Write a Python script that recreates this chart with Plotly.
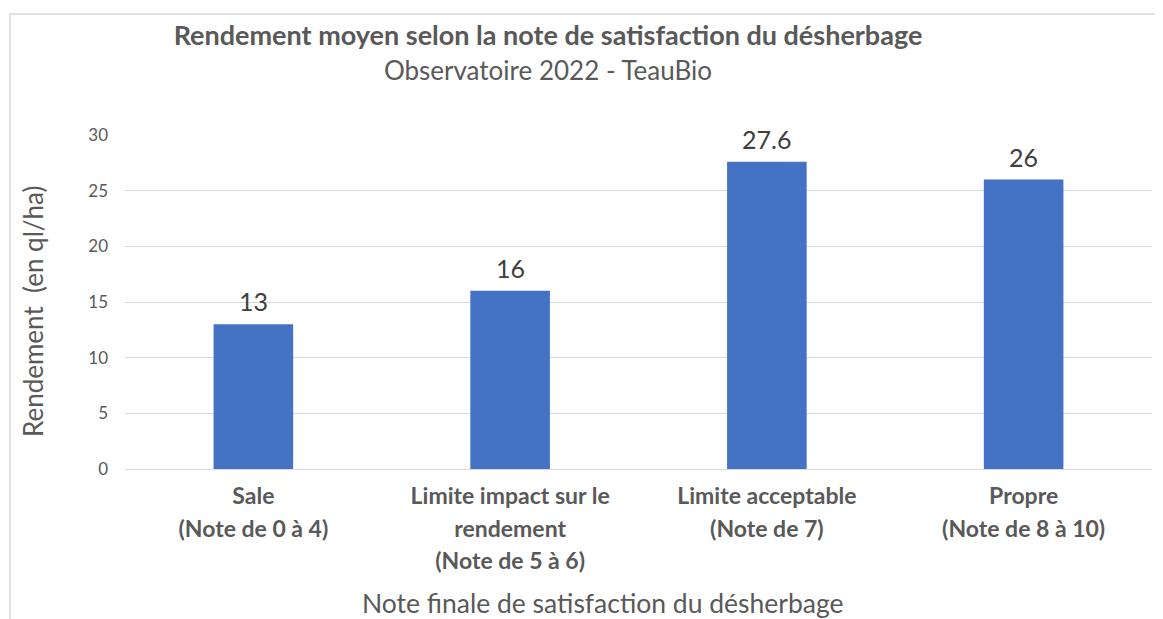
import plotly.graph_objects as go

categories = [
    "Sale<br>(Note de 0 à 4)",
    "Limite impact sur le<br>rendement<br>(Note de 5 à 6)",
    "Limite acceptable<br>(Note de 7)",
    "Propre<br>(Note de 8 à 10)",
]
values = [13, 16, 27.6, 26]
value_labels = ["13", "16", "27.6", "26"]
y_ticks = [0, 5, 10, 15, 20, 25, 30]

TITLE = "Rendement moyen selon la note de satisfaction du désherbage"
SUBTITLE = "Observatoire 2022 - TeauBio"
X_TITLE = "Note finale de satisfaction du désherbage"
Y_TITLE = "Rendement  (en ql/ha)"

FONT = "Lato, 'Open Sans', sans-serif"
GREY = "#595959"
BAR = "#4472C4"

# page body has an 8px margin: figure drawn at (8, 8)
W, H = 1155, 611
OFF = 8
PL, PR, PT, PB = 125 - OFF, 11, 135 - OFF, 611 - (469 - OFF)
PW = W - PL - PR
PH = H - PT - PB


def small(s, size=23):
    return "<br>".join(f'<span style="font-size:{size}px">{p}</span>' for p in s.split("<br>"))


cat_ids = list(range(len(categories)))

fig = go.Figure()
fig.add_trace(go.Bar(
    x=cat_ids, y=values, width=0.31,
    marker=dict(color=BAR, line=dict(width=0)),
    hoverinfo="skip",
))

for cx, v, lab in zip(cat_ids, values, value_labels):
    fig.add_annotation(
        x=cx, y=v, xref="x", yref="y", text=lab, showarrow=False,
        yanchor="bottom", yshift=6,
        font=dict(family=FONT, size=25, color="#404040"),
    )

# x-axis title (offset left of the plot centre, as in the reference)
fig.add_annotation(
    x=(603 - 125) / PW, y=0, xref="paper", yref="paper",
    text=X_TITLE, showarrow=False, xanchor="center", yanchor="middle",
    yshift=-(603 - 469),
    font=dict(family=FONT, size=26.5, color=GREY),
)

# y-axis title (rotated)
fig.add_annotation(
    x=(33 - 125) / PW, y=(469 - 312) / PH, xref="paper", yref="paper",
    text=Y_TITLE, showarrow=False, xanchor="center", yanchor="middle",
    textangle=-90,
    font=dict(family=FONT, size=26, color=GREY),
)

fig.update_layout(
    width=W, height=H,
    margin=dict(l=PL, r=PR, t=PT, b=PB, pad=0),
    paper_bgcolor="white", plot_bgcolor="white",
    showlegend=False,
    title=dict(
        text=f'<b><span style="font-size:27px">{TITLE}</span></b><br>'
             f'<span style="font-size:26px">{SUBTITLE}</span>',
        font=dict(family=FONT, size=27, color=GREY),
        x=(548 - OFF) / W, xanchor="center",
        y=1 - 37 / H, yanchor="top", yref="container",
    ),
    xaxis=dict(
        tickmode="array", tickvals=cat_ids,
        ticktext=[small(c) for c in categories],
        tickfont=dict(family=FONT, size=25, color=GREY, weight="bold"),
        range=[-0.5, 3.5], showgrid=False, zeroline=False,
        showline=False, ticks="", ticklabelstandoff=9,
    ),
    yaxis=dict(
        range=[0, 30], tickvals=y_ticks,
        tickfont=dict(family=FONT, size=17, color=GREY),
        showgrid=True, gridcolor="#d9d9d9", gridwidth=1,
        zeroline=True, zerolinecolor="#d9d9d9", zerolinewidth=1,
        ticks="", ticklabelstandoff=16,
    ),
    shapes=[dict(
        type="rect", xref="paper", yref="paper",
        x0=(10 - 125) / PW, x1=1.5, y0=-2, y1=(469 - 14) / PH,
        line=dict(color="#d9d9d9", width=1.5), fillcolor="rgba(0,0,0,0)", layer="below",
    )],
)

fig.write_html("out.html")
